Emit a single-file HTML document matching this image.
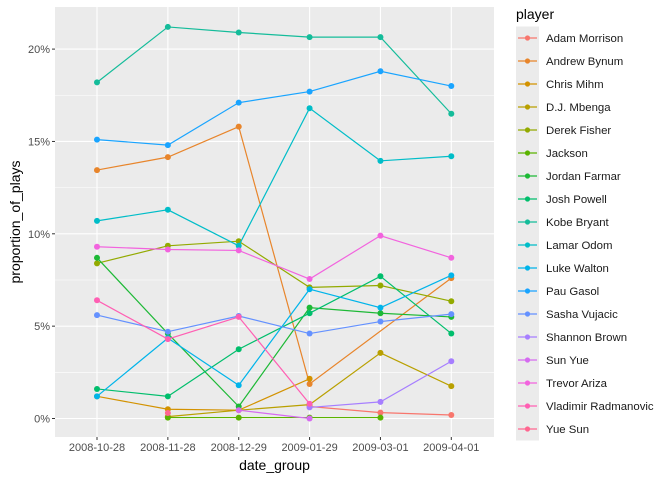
<!DOCTYPE html>
<html><head><meta charset="utf-8"><style>
body{margin:0;background:#fff;font-family:"Liberation Sans",sans-serif;}
svg text{font-family:"Liberation Sans",sans-serif;}
</style></head><body>
<svg id="chart" width="672" height="480" xmlns="http://www.w3.org/2000/svg">
<rect x="55" y="7" width="439" height="430" fill="#EBEBEB"/>
<g id="grid"></g><g id="series"></g><g id="axes"></g><g id="legend"></g>
</svg>
<script>
const categories=["2008-10-28","2008-11-28","2008-12-29","2009-01-29","2009-03-01","2009-04-01"];
const players=["Adam Morrison","Andrew Bynum","Chris Mihm","D.J. Mbenga","Derek Fisher","Jackson","Jordan Farmar","Josh Powell","Kobe Bryant","Lamar Odom","Luke Walton","Pau Gasol","Sasha Vujacic","Shannon Brown","Sun Yue","Trevor Ariza","Vladimir Radmanovic","Yue Sun"];
const colors=["#F8766D","#E8852B","#D39200","#B9A000","#93AA00","#5BB300","#1DB936","#00BE6C","#14BC9A","#00BDC8","#00B4EA","#19A4FF","#6491FF","#A67EFF","#D56BF0","#F263DE","#FF5FB3","#FF6690"];
const vAdam=[null,null,null,0.65,0.32,0.19];
const vBynum=[13.45,14.15,15.8,1.87,null,7.6];
const vMihm=[1.2,0.5,0.45,2.15,null,null];
const vMbenga=[null,0.1,0.45,0.75,3.55,1.75];
const vFisher=[8.4,9.35,9.6,7.1,7.2,6.35];
const vJackson=[null,0.05,0.05,0.05,0.05,null];
const vFarmar=[8.7,4.6,0.65,6.0,5.7,5.5];
const vPowell=[1.6,1.2,3.75,5.7,7.7,4.6];
const vKobe=[18.2,21.2,20.9,20.65,20.65,16.5];
const vOdom=[10.7,11.3,9.35,16.8,13.95,14.2];
const vWalton=[1.2,4.35,1.8,7.0,6.0,7.75];
const vGasol=[15.1,14.8,17.1,17.7,18.8,18.0];
const vSasha=[5.6,4.7,5.55,4.6,5.25,5.65];
const vShannon=[null,null,null,0.6,0.9,3.1];
const vSunYue=[null,null,0.45,0.0,null,null];
const vAriza=[9.3,9.15,9.1,7.55,9.9,8.7];
const vVlad=[6.4,4.3,5.5,0.8,null,null];
const vYueSun=[null,0.3,null,null,null,null];
const yTicks=[0,5,10,15,20];
const yTickLabels=["0%","5%","10%","15%","20%"];
const seriesValues=[vAdam,vBynum,vMihm,vMbenga,vFisher,vJackson,vFarmar,vPowell,vKobe,vOdom,vWalton,vGasol,vSasha,vShannon,vSunYue,vAriza,vVlad,vYueSun];
const NS="http://www.w3.org/2000/svg";
const X0=55,X1=494,Y0=7,Y1=437;
function xS(i){return 97+i*70.86;}
function yS(v){return 418.5-v*18.47;}
function mk(tag,attrs,parent){const e=document.createElementNS(NS,tag);for(const k in attrs)e.setAttribute(k,attrs[k]);parent.appendChild(e);return e;}
const grid=document.getElementById('grid'),axes=document.getElementById('axes'),ser=document.getElementById('series'),leg=document.getElementById('legend');
for(let t=0;t<yTicks.length-1;t++){const m=(yTicks[t]+yTicks[t+1])/2;const l=mk('line',{x1:X0,x2:X1,y1:yS(m),y2:yS(m),stroke:'#fff','stroke-width':0.55},grid);

}
{const m=22.5;const l=mk('line',{x1:X0,x2:X1,y1:yS(m),y2:yS(m),stroke:'#fff','stroke-width':0.55},grid);

}
yTicks.forEach((t,i)=>{const l=mk('line',{x1:X0,x2:X1,y1:yS(t),y2:yS(t),stroke:'#fff','stroke-width':1.1},grid);


const tk=mk('line',{x1:X0-3,x2:X0,y1:yS(t),y2:yS(t),stroke:'#333','stroke-width':1},axes);


const tx=mk('text',{x:X0-5,y:yS(t)+4,'text-anchor':'end','font-size':11,fill:'#4D4D4D'},axes);tx.textContent=yTickLabels[i];

});
categories.forEach((c,i)=>{const l=mk('line',{x1:xS(i),x2:xS(i),y1:Y0,y2:Y1,stroke:'#fff','stroke-width':1.1},grid);


const tk=mk('line',{x1:xS(i),x2:xS(i),y1:Y1,y2:Y1+3,stroke:'#333','stroke-width':1},axes);


const tx=mk('text',{x:xS(i),y:Y1+14,'text-anchor':'middle','font-size':11,fill:'#4D4D4D'},axes);tx.textContent=c;

});
const xt=mk('text',{x:(X0+X1)/2,y:470,'text-anchor':'middle','font-size':14,fill:'#000'},axes);xt.textContent='date_group';


const yt=mk('text',{x:0,y:0,'text-anchor':'middle','font-size':14,fill:'#000',transform:'translate(20,'+((Y0+Y1)/2)+') rotate(-90)'},axes);yt.textContent='proportion_of_plays';


seriesValues.forEach((vals,s)=>{const g=mk('g',{},ser);


const pts=[];vals.forEach((v,i)=>{if(v!==null)pts.push([xS(i),yS(v)]);});
if(pts.length>1){const p=mk('polyline',{points:pts.map(p=>p.join(',')).join(' '),fill:'none',stroke:colors[s],'stroke-width':1.2},g);

}
pts.forEach(p=>{const c=mk('circle',{cx:p[0],cy:p[1],r:3,fill:colors[s]},g);

});});
const lt=mk('text',{x:516,y:19,'font-size':14,fill:'#000'},leg);lt.textContent='player';


players.forEach((p,i)=>{const y=38+i*23;const g=mk('g',{},leg);


mk('rect',{x:516,y:y-11.5,width:23,height:23,fill:'#EBEBEB'},g);
mk('line',{x1:518,x2:537,y1:y,y2:y,stroke:colors[i],'stroke-width':1.2},g);
mk('circle',{cx:527.5,cy:y,r:2.6,fill:colors[i]},g);
const t=mk('text',{x:546,y:y+4,'font-size':11.4,fill:'#1a1a1a'},g);t.textContent=p;});
</script>
</body></html>
